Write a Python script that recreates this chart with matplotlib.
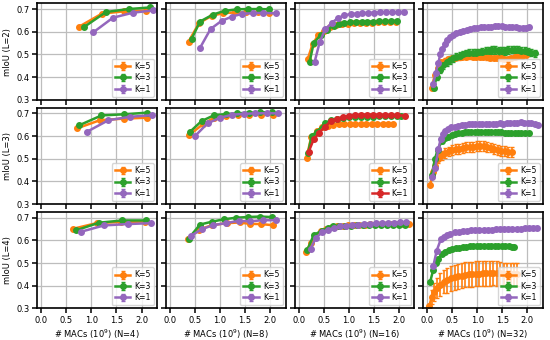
import matplotlib
matplotlib.use("Agg")
import matplotlib.pyplot as plt

# ---- data: rows L=2,3,4 ; columns N=4,8,16,32 ; series K=5,3,1 ----
# L=2
l2_n4_k5_x = [0.75, 1.21, 1.65, 2.08]
l2_n4_k5_y = [0.622, 0.680, 0.690, 0.693]
l2_n4_k3_x = [0.86, 1.29, 1.74, 2.16]
l2_n4_k3_y = [0.622, 0.687, 0.700, 0.707]
l2_n4_k1_x = [1.04, 1.43, 1.83, 2.22]
l2_n4_k1_y = [0.598, 0.662, 0.684, 0.694]

l2_n8_k5_x = [0.37, 0.58, 0.83, 1.06, 1.30, 1.52, 1.75, 1.97]
l2_n8_k5_y = [0.556, 0.638, 0.670, 0.682, 0.685, 0.685, 0.685, 0.684]
l2_n8_k3_x = [0.43, 0.60, 0.86, 1.09, 1.34, 1.55, 1.77, 1.98]
l2_n8_k3_y = [0.568, 0.645, 0.676, 0.692, 0.699, 0.700, 0.700, 0.699]
l2_n8_k1_x = [0.60, 0.81, 1.03, 1.24, 1.44, 1.66, 1.86, 2.12]
l2_n8_k1_y = [0.529, 0.612, 0.648, 0.667, 0.679, 0.682, 0.683, 0.681]

l2_n16_k5_x = [0.18, 0.28, 0.39, 0.51, 0.63, 0.75, 0.87, 0.99, 1.11, 1.23, 1.35, 1.47, 1.59, 1.71, 1.83, 1.95]
l2_n16_k5_y = [0.478, 0.546, 0.584, 0.605, 0.620, 0.628, 0.633, 0.636, 0.638, 0.639, 0.640, 0.640, 0.641, 0.641, 0.642, 0.642]
l2_n16_k3_x = [0.22, 0.30, 0.44, 0.57, 0.70, 0.80, 0.91, 1.02, 1.15, 1.26, 1.37, 1.49, 1.61, 1.72, 1.84, 1.96]
l2_n16_k3_y = [0.467, 0.549, 0.586, 0.608, 0.627, 0.633, 0.638, 0.641, 0.643, 0.644, 0.645, 0.645, 0.646, 0.646, 0.647, 0.648]
l2_n16_k1_x = [0.32, 0.42, 0.53, 0.67, 0.78, 0.91, 1.04, 1.16, 1.27, 1.39, 1.50, 1.62, 1.74, 1.86, 1.99, 2.10]
l2_n16_k1_y = [0.467, 0.553, 0.611, 0.640, 0.660, 0.672, 0.678, 0.680, 0.682, 0.683, 0.684, 0.685, 0.685, 0.686, 0.686, 0.687]

l2_n32_k5_x = [0.09, 0.15, 0.21, 0.28, 0.35, 0.42, 0.49, 0.56, 0.63, 0.70, 0.77, 0.84, 0.91, 0.98, 1.05, 1.12, 1.19,
               1.26, 1.33, 1.40, 1.47, 1.54, 1.61, 1.68, 1.75, 1.82, 1.90, 1.98]
l2_n32_k5_y = [0.353, 0.408, 0.440, 0.467, 0.473, 0.478, 0.482, 0.485, 0.487, 0.489, 0.490, 0.491, 0.490, 0.489, 0.488,
               0.487, 0.487, 0.486, 0.485, 0.484, 0.482, 0.478, 0.480, 0.485, 0.490, 0.493, 0.495, 0.497]
l2_n32_k5_e = [0.004, 0.008, 0.008, 0.009, 0.009, 0.009, 0.010, 0.009, 0.010, 0.009, 0.010, 0.010, 0.009, 0.010, 0.010,
               0.009, 0.010, 0.010, 0.009, 0.010, 0.010, 0.009, 0.010, 0.010, 0.009, 0.010, 0.010, 0.010]
l2_n32_k3_x = [0.13, 0.19, 0.26, 0.32, 0.39, 0.45, 0.52, 0.58, 0.65, 0.71, 0.78, 0.84, 0.91, 0.97, 1.04, 1.10, 1.17,
               1.23, 1.30, 1.36, 1.43, 1.49, 1.56, 1.62, 1.69, 1.75, 1.82, 1.88, 1.95, 2.01, 2.08, 2.15]
l2_n32_k3_y = [0.353, 0.400, 0.430, 0.452, 0.465, 0.475, 0.483, 0.490, 0.495, 0.500, 0.504, 0.506, 0.507, 0.508, 0.509,
               0.512, 0.515, 0.517, 0.519, 0.518, 0.516, 0.515, 0.516, 0.518, 0.520, 0.521, 0.519, 0.517, 0.515, 0.512,
               0.508, 0.505]
l2_n32_k3_e = [0.005, 0.012, 0.014, 0.015, 0.015, 0.016, 0.016, 0.016, 0.017, 0.016, 0.017, 0.017, 0.016, 0.017, 0.017,
               0.016, 0.017, 0.017, 0.016, 0.017, 0.017, 0.016, 0.017, 0.017, 0.016, 0.017, 0.017, 0.016, 0.017, 0.017,
               0.016, 0.016]
l2_n32_k1_x = [0.12, 0.17, 0.22, 0.26, 0.30, 0.35, 0.40, 0.46, 0.52, 0.58, 0.65, 0.72, 0.79, 0.86, 0.93, 1.00, 1.07,
               1.14, 1.21, 1.28, 1.35, 1.42, 1.49, 1.56, 1.63, 1.70, 1.77, 1.84, 1.91, 1.98, 2.04]
l2_n32_k1_y = [0.370, 0.420, 0.460, 0.500, 0.525, 0.545, 0.562, 0.575, 0.585, 0.593, 0.600, 0.605, 0.609, 0.612, 0.615,
               0.617, 0.619, 0.621, 0.622, 0.623, 0.624, 0.624, 0.624, 0.623, 0.622, 0.621, 0.619, 0.618, 0.618, 0.618,
               0.619]

# L=3
l3_n4_k5_x = [0.71, 1.17, 1.65, 2.11]
l3_n4_k5_y = [0.634, 0.670, 0.677, 0.681]
l3_n4_k3_x = [0.76, 1.20, 1.65, 2.10]
l3_n4_k3_y = [0.648, 0.691, 0.696, 0.703]
l3_n4_k1_x = [0.91, 1.34, 1.77, 2.20]
l3_n4_k1_y = [0.619, 0.670, 0.685, 0.692]

l3_n8_k5_x = [0.38, 0.65, 0.88, 1.12, 1.35, 1.58, 1.82, 2.06]
l3_n8_k5_y = [0.604, 0.651, 0.681, 0.690, 0.693, 0.694, 0.695, 0.695]
l3_n8_k3_x = [0.40, 0.63, 0.88, 1.12, 1.34, 1.57, 1.80, 2.04]
l3_n8_k3_y = [0.619, 0.666, 0.692, 0.697, 0.700, 0.703, 0.705, 0.704]
l3_n8_k1_x = [0.50, 0.75, 1.00, 1.24, 1.47, 1.70, 1.93, 2.16]
l3_n8_k1_y = [0.600, 0.656, 0.681, 0.694, 0.698, 0.700, 0.701, 0.700]

l3_n16_k5_x = [0.16, 0.25, 0.36, 0.47, 0.58, 0.69, 0.80, 0.91, 1.02, 1.13, 1.24, 1.35, 1.46, 1.57, 1.68, 1.79, 1.89]
l3_n16_k5_y = [0.505, 0.595, 0.622, 0.638, 0.646, 0.650, 0.652, 0.653, 0.653, 0.654, 0.654, 0.654, 0.654, 0.654, 0.654,
               0.654, 0.655]
l3_n16_k3_x = [0.19, 0.26, 0.37, 0.52, 0.65, 0.77, 0.89, 1.01, 1.13, 1.25, 1.37, 1.49, 1.61, 1.73, 1.85, 1.97, 2.05]
l3_n16_k3_y = [0.526, 0.600, 0.620, 0.656, 0.670, 0.676, 0.680, 0.683, 0.684, 0.685, 0.686, 0.686, 0.687, 0.687, 0.687,
               0.688, 0.688]
l3_n16_k1_x = [0.20, 0.30, 0.41, 0.52, 0.65, 0.76, 0.88, 1.00, 1.12, 1.24, 1.36, 1.48, 1.60, 1.72, 1.84, 1.96, 2.12]
l3_n16_k1_y = [0.530, 0.585, 0.615, 0.640, 0.668, 0.676, 0.684, 0.690, 0.693, 0.694, 0.695, 0.695, 0.694, 0.694, 0.693,
               0.692, 0.690]

l3_n32_k5_x = [0.06, 0.11, 0.15, 0.22, 0.29, 0.36, 0.43, 0.50, 0.57, 0.64, 0.71, 0.78, 0.85, 0.92, 0.99, 1.06, 1.13,
               1.20, 1.27, 1.34, 1.41, 1.48, 1.55, 1.62, 1.70]
l3_n32_k5_y = [0.383, 0.440, 0.467, 0.500, 0.515, 0.525, 0.532, 0.538, 0.541, 0.544, 0.547, 0.550, 0.552, 0.553, 0.555,
               0.556, 0.555, 0.553, 0.549, 0.545, 0.540, 0.535, 0.532, 0.530, 0.530]
l3_n32_k5_e = [0.005, 0.015, 0.018, 0.020, 0.021, 0.022, 0.021, 0.022, 0.022, 0.021, 0.022, 0.022, 0.021, 0.022, 0.022,
               0.021, 0.022, 0.022, 0.021, 0.022, 0.022, 0.021, 0.022, 0.022, 0.021]
l3_n32_k3_x = [0.09, 0.15, 0.21, 0.29, 0.36, 0.42, 0.49, 0.55, 0.62, 0.69, 0.75, 0.82, 0.88, 0.95, 1.02, 1.08, 1.15,
               1.22, 1.28, 1.35, 1.42, 1.48, 1.55, 1.62, 1.68, 1.75, 1.82, 1.88, 1.95, 2.04]
l3_n32_k3_y = [0.426, 0.497, 0.540, 0.576, 0.590, 0.598, 0.604, 0.608, 0.612, 0.614, 0.616, 0.617, 0.617, 0.618, 0.618,
               0.617, 0.617, 0.617, 0.618, 0.617, 0.616, 0.616, 0.615, 0.615, 0.614, 0.614, 0.613, 0.613, 0.612, 0.612]
l3_n32_k3_e = [0.003, 0.004, 0.005, 0.005, 0.005, 0.005, 0.005, 0.005, 0.005, 0.005, 0.005, 0.005, 0.005, 0.005, 0.005,
               0.005, 0.005, 0.005, 0.005, 0.005, 0.005, 0.005, 0.005, 0.005, 0.005, 0.005, 0.005, 0.005, 0.005, 0.005]
l3_n32_k1_x = [0.10, 0.16, 0.22, 0.27, 0.32, 0.36, 0.42, 0.48, 0.55, 0.62, 0.69, 0.76, 0.83, 0.89, 0.96, 1.03, 1.10,
               1.17, 1.24, 1.31, 1.38, 1.45, 1.52, 1.59, 1.66, 1.73, 1.80, 1.87, 1.94, 2.01, 2.08, 2.15, 2.21]
l3_n32_k1_y = [0.420, 0.460, 0.541, 0.588, 0.610, 0.624, 0.632, 0.638, 0.641, 0.644, 0.647, 0.649, 0.651, 0.652, 0.653,
               0.654, 0.655, 0.655, 0.655, 0.654, 0.655, 0.656, 0.655, 0.656, 0.657, 0.658, 0.659, 0.660, 0.659, 0.658,
               0.656, 0.652, 0.648]

# L=4
l4_n4_k5_x = [0.63, 1.12, 1.60, 2.07]
l4_n4_k5_y = [0.651, 0.677, 0.681, 0.683]
l4_n4_k3_x = [0.69, 1.15, 1.62, 2.08]
l4_n4_k3_y = [0.644, 0.678, 0.688, 0.688]
l4_n4_k1_x = [0.79, 1.25, 1.72, 2.18]
l4_n4_k1_y = [0.638, 0.666, 0.672, 0.676]

l4_n8_k5_x = [0.35, 0.58, 0.84, 1.13, 1.39, 1.59, 1.82, 2.05]
l4_n8_k5_y = [0.608, 0.648, 0.667, 0.676, 0.679, 0.673, 0.672, 0.667]
l4_n8_k3_x = [0.37, 0.60, 0.83, 1.07, 1.32, 1.55, 1.79, 2.04]
l4_n8_k3_y = [0.608, 0.670, 0.682, 0.693, 0.700, 0.703, 0.705, 0.703]
l4_n8_k1_x = [0.42, 0.64, 0.86, 1.11, 1.37, 1.60, 1.85, 2.12]
l4_n8_k1_y = [0.620, 0.650, 0.667, 0.676, 0.686, 0.684, 0.689, 0.689]

l4_n16_k5_x = [0.15, 0.24, 0.33, 0.44, 0.55, 0.66, 0.77, 0.88, 0.99, 1.10, 1.21, 1.32, 1.43, 1.54, 1.65, 1.76, 1.87,
               1.98, 2.09, 2.20]
l4_n16_k5_y = [0.549, 0.589, 0.620, 0.640, 0.650, 0.657, 0.662, 0.665, 0.667, 0.668, 0.669, 0.670, 0.671, 0.671, 0.672,
               0.672, 0.673, 0.673, 0.674, 0.674]
l4_n16_k3_x = [0.17, 0.30, 0.46, 0.58, 0.69, 0.81, 0.93, 1.05, 1.17, 1.29, 1.41, 1.53, 1.65, 1.77, 1.89, 2.01, 2.13]
l4_n16_k3_y = [0.556, 0.623, 0.643, 0.655, 0.662, 0.664, 0.665, 0.665, 0.666, 0.666, 0.666, 0.666, 0.667, 0.667, 0.667,
               0.667, 0.667]
l4_n16_k1_x = [0.24, 0.34, 0.47, 0.58, 0.70, 0.83, 0.95, 1.07, 1.19, 1.31, 1.43, 1.55, 1.67, 1.79, 1.91, 2.03, 2.15]
l4_n16_k1_y = [0.562, 0.610, 0.636, 0.646, 0.654, 0.662, 0.665, 0.668, 0.670, 0.672, 0.674, 0.675, 0.676, 0.677, 0.678,
               0.679, 0.680]

l4_n32_k5_x = [0.04, 0.09, 0.14, 0.19, 0.26, 0.33, 0.40, 0.47, 0.55, 0.62, 0.69, 0.76, 0.83, 0.90, 0.97, 1.04, 1.11,
               1.18, 1.25, 1.32, 1.39, 1.46, 1.53, 1.60, 1.67, 1.74, 1.80]
l4_n32_k5_y = [0.310, 0.350, 0.372, 0.390, 0.405, 0.418, 0.425, 0.432, 0.438, 0.442, 0.445, 0.448, 0.450, 0.451, 0.452,
               0.453, 0.454, 0.455, 0.455, 0.456, 0.455, 0.454, 0.452, 0.451, 0.450, 0.450, 0.450]
l4_n32_k5_e = [0.010, 0.030, 0.040, 0.045, 0.050, 0.050, 0.055, 0.055, 0.055, 0.055, 0.055, 0.055, 0.055, 0.055, 0.055,
               0.055, 0.055, 0.055, 0.055, 0.055, 0.055, 0.050, 0.050, 0.050, 0.050, 0.050, 0.050]
l4_n32_k3_x = [0.06, 0.12, 0.17, 0.22, 0.29, 0.36, 0.43, 0.50, 0.57, 0.64, 0.71, 0.78, 0.85, 0.92, 0.99, 1.06, 1.13,
               1.21, 1.28, 1.35, 1.42, 1.49, 1.56, 1.63, 1.70, 1.74]
l4_n32_k3_y = [0.418, 0.470, 0.500, 0.520, 0.538, 0.550, 0.557, 0.562, 0.566, 0.568, 0.570, 0.572, 0.574, 0.575, 0.575,
               0.576, 0.576, 0.576, 0.576, 0.576, 0.575, 0.575, 0.575, 0.574, 0.573, 0.573]
l4_n32_k3_e = [0.002, 0.003, 0.004, 0.004, 0.004, 0.004, 0.004, 0.004, 0.004, 0.004, 0.004, 0.004, 0.004, 0.004, 0.004,
               0.004, 0.004, 0.004, 0.004, 0.004, 0.004, 0.004, 0.004, 0.004, 0.004, 0.004]
l4_n32_k1_x = [0.12, 0.19, 0.27, 0.33, 0.39, 0.46, 0.55, 0.64, 0.72, 0.80, 0.88, 0.96, 1.04, 1.13, 1.21, 1.29, 1.37,
               1.46, 1.54, 1.62, 1.70, 1.79, 1.87, 1.95, 2.03, 2.12, 2.20]
l4_n32_k1_y = [0.485, 0.555, 0.604, 0.616, 0.624, 0.630, 0.636, 0.639, 0.641, 0.643, 0.644, 0.645, 0.646, 0.647, 0.648,
               0.648, 0.649, 0.650, 0.650, 0.651, 0.651, 0.652, 0.652, 0.653, 0.653, 0.653, 0.653]

row_labels = ["mIoU (L=2)", "mIoU (L=3)", "mIoU (L=4)"]
col_labels = ["# MACs ($10^9$) (N=4)", "# MACs ($10^9$) (N=8)",
              "# MACs ($10^9$) (N=16)", "# MACs ($10^9$) (N=32)"]
k_labels = ["K=5", "K=3", "K=1"]
k_colors = ["tab:orange", "tab:green", "tab:purple"]

# panel table: (x, y, err) for K=5, K=3, K=1
panels = [
    [[(l2_n4_k5_x, l2_n4_k5_y, 0), (l2_n4_k3_x, l2_n4_k3_y, 0), (l2_n4_k1_x, l2_n4_k1_y, 0)],
     [(l2_n8_k5_x, l2_n8_k5_y, 0), (l2_n8_k3_x, l2_n8_k3_y, 0), (l2_n8_k1_x, l2_n8_k1_y, 0)],
     [(l2_n16_k5_x, l2_n16_k5_y, 0), (l2_n16_k3_x, l2_n16_k3_y, 0), (l2_n16_k1_x, l2_n16_k1_y, 0)],
     [(l2_n32_k5_x, l2_n32_k5_y, l2_n32_k5_e), (l2_n32_k3_x, l2_n32_k3_y, l2_n32_k3_e), (l2_n32_k1_x, l2_n32_k1_y, 0)]],
    [[(l3_n4_k5_x, l3_n4_k5_y, 0), (l3_n4_k3_x, l3_n4_k3_y, 0), (l3_n4_k1_x, l3_n4_k1_y, 0)],
     [(l3_n8_k5_x, l3_n8_k5_y, 0), (l3_n8_k3_x, l3_n8_k3_y, 0), (l3_n8_k1_x, l3_n8_k1_y, 0)],
     [(l3_n16_k5_x, l3_n16_k5_y, 0), (l3_n16_k3_x, l3_n16_k3_y, 0), (l3_n16_k1_x, l3_n16_k1_y, 0)],
     [(l3_n32_k5_x, l3_n32_k5_y, l3_n32_k5_e), (l3_n32_k3_x, l3_n32_k3_y, l3_n32_k3_e), (l3_n32_k1_x, l3_n32_k1_y, 0)]],
    [[(l4_n4_k5_x, l4_n4_k5_y, 0), (l4_n4_k3_x, l4_n4_k3_y, 0), (l4_n4_k1_x, l4_n4_k1_y, 0)],
     [(l4_n8_k5_x, l4_n8_k5_y, 0), (l4_n8_k3_x, l4_n8_k3_y, 0), (l4_n8_k1_x, l4_n8_k1_y, 0)],
     [(l4_n16_k5_x, l4_n16_k5_y, 0), (l4_n16_k3_x, l4_n16_k3_y, 0), (l4_n16_k1_x, l4_n16_k1_y, 0)],
     [(l4_n32_k5_x, l4_n32_k5_y, l4_n32_k5_e), (l4_n32_k3_x, l4_n32_k3_y, l4_n32_k3_e), (l4_n32_k1_x, l4_n32_k1_y, 0)]],
]

plt.rcParams['font.size'] = 6
plt.rcParams['axes.linewidth'] = 1.2

fig, axes = plt.subplots(3, 4, sharex=True, sharey=True, figsize=(5.5, 3.4), dpi=100)
fig.subplots_adjust(left=0.068, right=0.987, top=0.99, bottom=0.093, wspace=0.075, hspace=0.083)

for r in range(3):
    for c in range(4):
        ax = axes[r][c]
        for k in range(3):
            x, y, e = panels[r][c][k]
            color = k_colors[k]
            # the L=3, N=16 panel draws K=1 in red
            if r == 1 and c == 2 and k == 2:
                color = "tab:red"
            ax.errorbar(x, y, yerr=e, color=color, marker='o', ms=4, lw=1.8,
                        elinewidth=1.2, capsize=1.6, label=k_labels[k])
        ax.grid(True, color='#bdbdbd', lw=0.9)
        ax.set_axisbelow(True)
        ax.tick_params(direction='out', length=3.5, width=1.1, labelsize=6, pad=2)
        ax.legend(loc='lower right', fontsize=5.6, handlelength=2, borderpad=0.4,
                  labelspacing=0.3, handletextpad=0.5, borderaxespad=0.4)
        if c == 0:
            ax.set_ylabel(row_labels[r], fontsize=6, labelpad=3)
        if r == 2:
            ax.set_xlabel(col_labels[c], fontsize=6, labelpad=2)

axes[0][0].set_xlim(-0.08, 2.31)
axes[0][0].set_ylim(0.3, 0.725)
axes[0][0].set_xticks([0.0, 0.5, 1.0, 1.5, 2.0])
axes[0][0].set_yticks([0.3, 0.4, 0.5, 0.6, 0.7])

plt.savefig("out.png", dpi=100)
